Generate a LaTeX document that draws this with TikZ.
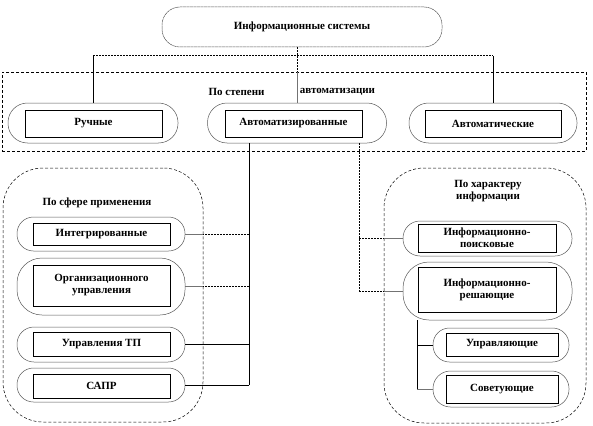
\documentclass[tikz,border=0pt]{standalone}
\usepackage{fontspec}
\setmainfont{Liberation Serif}
\usetikzlibrary{positioning}

\begin{document}
\begin{tikzpicture}[x=1pt, y=-1pt,
  pill/.style n args = {3}{draw=black!65, line width=0.5pt, minimum width=#1, minimum height=#2, rounded corners=#3, inner sep=0pt},
  lab/.style n args  = {2}{draw, line width=0.6pt, minimum width=#1, minimum height=#2, inner sep=1pt, align=center, font=\fontsize{11}{12}\selectfont\bfseries},
  hdr/.style   = {inner sep=0pt, align=center, font=\fontsize{11}{12}\selectfont\bfseries},
  group/.style n args= {2}{draw, line width=0.5pt, dash pattern=on 3pt off 2pt, rounded corners=40pt, minimum width=#1, minimum height=#2, inner sep=0pt},
  dots/.style  = {line width=1pt, dash pattern=on 2pt off 1pt},
  soft/.style  = {black!55, line width=0.8pt}
]
\useasboundingbox (0,0) rectangle (593,425);

% ================= top level =================
\node[draw, line width=0.5pt, dash pattern=on 3pt off 2pt, minimum width=584pt, minimum height=79pt, inner sep=0pt] (stepen) at (294,111.5) {};
\node[hdr] (stepenL) at (236.5,92) {По степени};
\node[hdr] (stepenR) at (337.5,92) {автоматизации};

\node[pill={280}{40}{18}, dash pattern=on 3pt off 0.5pt, font=\fontsize{11}{12}\selectfont\bfseries] (is) at (302,27) {Информационные системы};

\node[pill={170}{40}{19.5}] (ruch) at (93,123) {};
\node[lab={137}{27}] (ruchT) at (93.5,123.5) {Ручные};
\node[pill={179}{40}{19.5}] (auto) at (297,123) {};
\node[lab={137}{27}] (autoT) at (293.5,123.5) {Автоматизированные};
\node[pill={168}{40}{19.5}] (avtm) at (493,123) {};
\node[lab={136}{27}] (avtmT) at (493,123.5) {Автоматические};

\coordinate (bus) at (0,56);
\draw[dots] (ruch.north |- bus) -- (avtm.north |- bus);
\draw[line width=0.8pt] (ruch.north) -- (ruch.north |- bus);
\draw[line width=0.8pt] (avtm.north) -- (avtm.north |- bus);
\draw[dots] (auto.north |- is.south) -- (auto.north |- stepen.north);
\draw[soft] (auto.north |- stepen.north) -- (auto.north);

% ================= by area of use =================
\node[group={200}{254}] (sfera) at (103,295) {};
\node[hdr] (sferaH) at (97,203) {По сфере применения};
\node[pill={168}{34}{16.5}] (integ) at (101,234) {};
\node[lab={137}{22}] (integT) at (101.5,234) {Интегрированные};
\node[pill={168}{57}{25}] (org) at (101,286.5) {};
\node[lab={137}{41}] (orgT) at (101.5,285.5) {Организационного\\управления};
\node[pill={168}{35}{17}] (utp) at (101,344.5) {};
\node[lab={137}{24}] (utpT) at (101.5,344) {Управления ТП};
\node[pill={168}{34}{16.5}] (sapr) at (101,385) {};
\node[lab={137}{24}] (saprT) at (101.5,386) {САПР};

\coordinate (trL) at ([xshift=-48pt]auto.south);
\draw[line width=0.8pt] (trL) -- (trL |- sapr.east);
\foreach \n in {integ, org} {
  \draw[dots] (trL |- \n.east) -- (\n.east -| sfera.east);
  \draw[soft] (\n.east -| sfera.east) -- (\n.east);
}
\draw[line width=0.8pt] (trL |- utp.east) -- (utp.east);
\draw[line width=0.8pt] (trL |- sapr.east) -- (sapr.east);

% ================= by kind of information =================
\node[group={202}{255}] (harakter) at (485,295.5) {};
\node[hdr] (harakterH) at (488,191) {По характеру\\информации};
\node[pill={169}{35}{17}] (poisk) at (487.5,238.5) {};
\node[lab={138}{28}] (poiskT) at (487,238) {Информационно-\\поисковые};
\node[pill={169}{58}{26}] (resh) at (487.5,291) {};
\node[lab={138}{45}] (reshT) at (487,289.5) {Информационно-\\решающие};
\node[pill={136}{34}{16.5}] (upr) at (501,345) {};
\node[lab={112}{23}] (uprT) at (502,344.5) {Управляющие};
\node[pill={136}{36}{17.5}] (sov) at (501,389) {};
\node[lab={112}{28}] (sovT) at (502,389) {Советующие};

\coordinate (trR) at ([xshift=62pt]auto.south);
\draw[dots] (trR) -- (trR |- resh.west);
\foreach \n in {poisk, resh} {
  \draw[dots] (trR |- \n.west) -- (\n.west -| harakter.west);
  \draw[soft] (\n.west -| harakter.west) -- (\n.west);
}
\coordinate (trS) at ([xshift=-70.5pt]resh.south);
\draw[line width=0.8pt] (trS) -- (trS |- sov.west);
\draw[line width=0.8pt] (trS |- upr.west) -- (upr.west);
\draw[soft] (trS |- sov.west) -- (sov.west);

\end{tikzpicture}
\end{document}
